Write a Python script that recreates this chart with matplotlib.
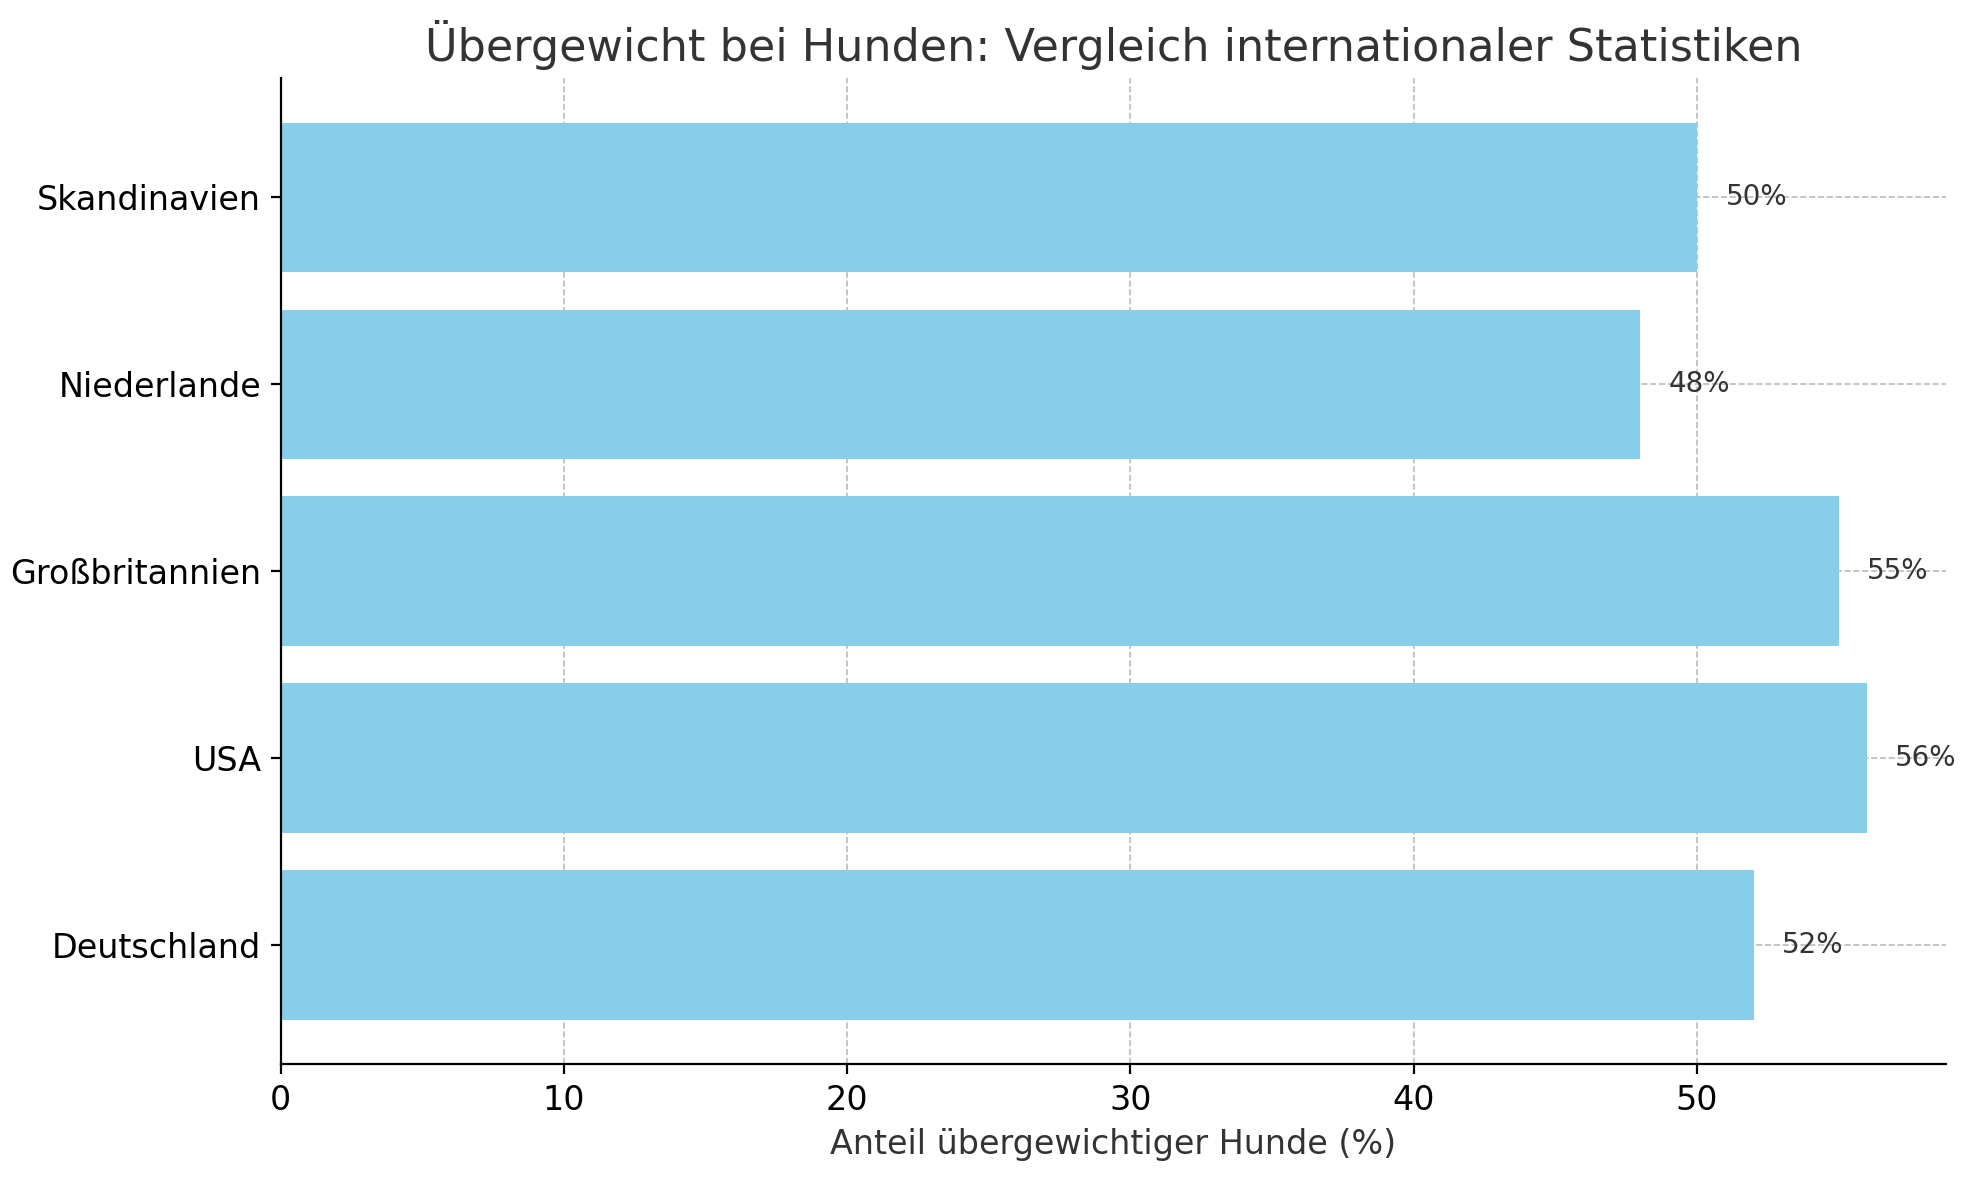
import matplotlib.pyplot as plt

laender = ['Deutschland', 'USA', 'Großbritannien', 'Niederlande', 'Skandinavien']
anteil = [52, 56, 55, 48, 50]

fig, ax = plt.subplots(figsize=(9.88, 5.9), dpi=200)
bars = ax.barh(laender, anteil, color='skyblue', zorder=2)
for b, v in zip(bars, anteil):
    ax.text(v + 1, b.get_y() + b.get_height() / 2, f'{v}%', va='center', ha='left',
            fontsize=10, color='#333333')

ax.set_title('Übergewicht bei Hunden: Vergleich internationaler Statistiken', fontsize=16, color='#333333')
ax.set_xlabel('Anteil übergewichtiger Hunde (%)', fontsize=12, color='#333333')
ax.tick_params(labelsize=12)
ax.grid(True, linestyle='--', color='#bbbbbb', linewidth=0.6, zorder=0)
ax.spines['top'].set_visible(False)
ax.spines['right'].set_visible(False)
plt.subplots_adjust(left=0.142, right=0.985, top=0.934, bottom=0.098)
plt.savefig('out.png')
